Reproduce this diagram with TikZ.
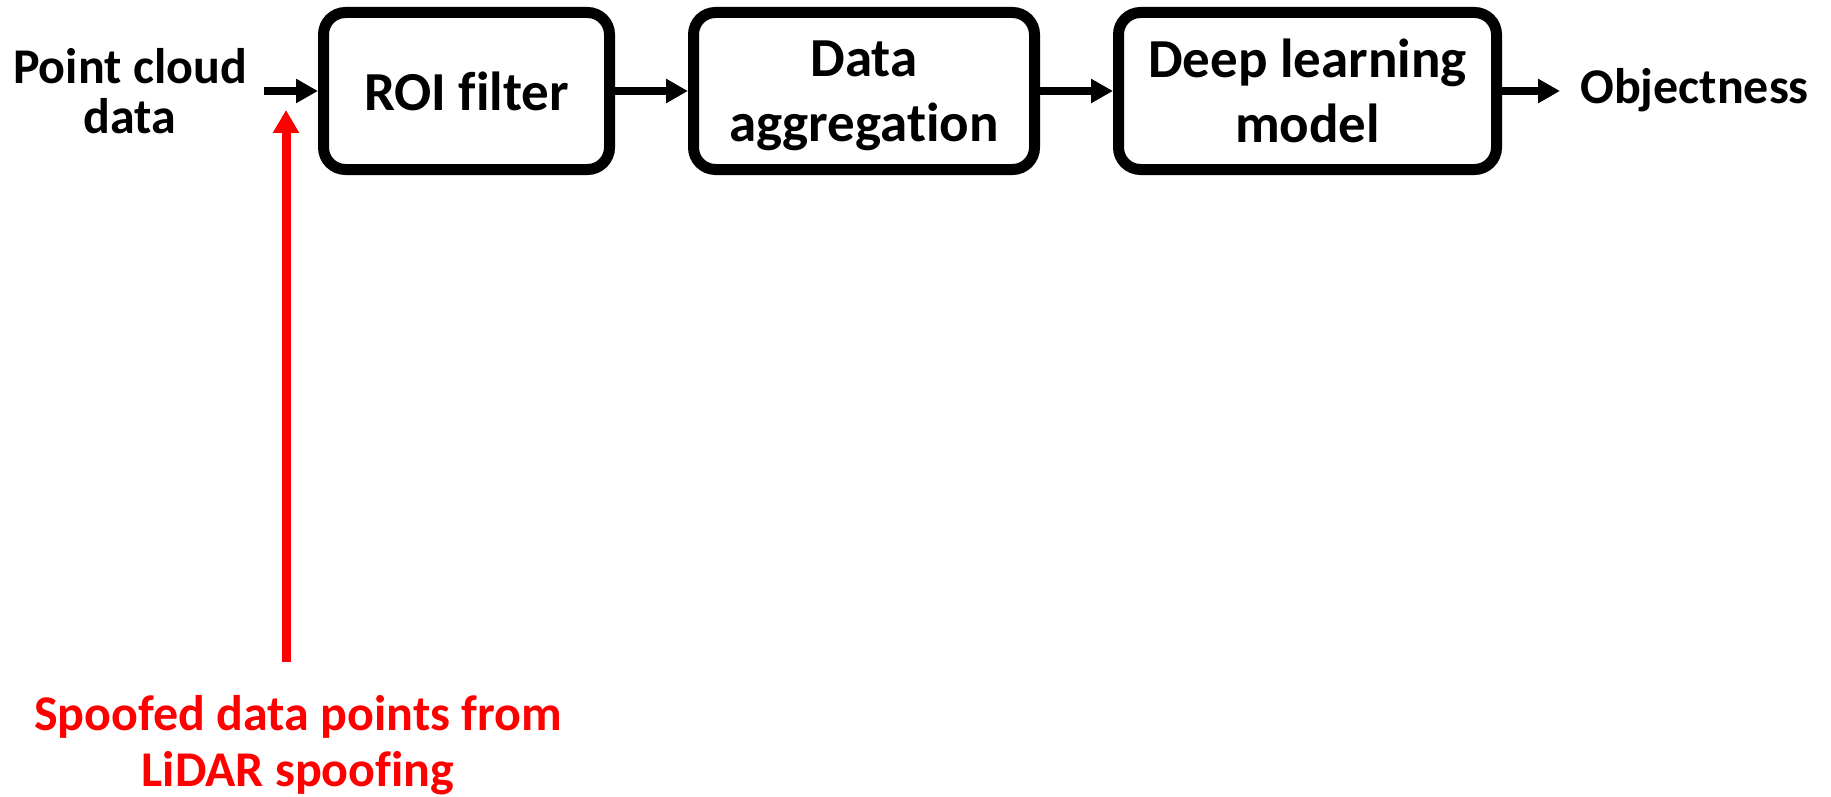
\documentclass[tikz,border=0pt]{standalone}
\usepackage{fontspec}
\setmainfont[Ligatures=NoCommon]{Carlito}
\usetikzlibrary{arrows.meta}
\begin{document}
\begin{tikzpicture}[x=1pt,y=-1pt,
  every node/.style={align=center, inner sep=0pt},
  boxtext/.style={font=\fontsize{55}{65}\selectfont\bfseries},
  plaintext/.style={font=\fontsize{50}{50}\selectfont\bfseries},
  stage/.style={boxtext, draw=black, line width=11pt, rounded corners=22pt, fill=white,
    minimum height=157pt},
  flow/.style={line width=8pt, -{Triangle[length=22pt,width=23pt]}},
  attack/.style={line width=9pt, draw=red, -{Triangle[length=23pt,width=25pt]}}
]
\useasboundingbox (0,0) rectangle (1831,797);

% processing stages
\node[stage, minimum width=286pt] (roi) at (466.5,91) {ROI filter};
\node[stage, minimum width=341pt] (agg) at (864,91)
  {Data\\\raisebox{0pt}[\height][0pt]{aggregation}};
\node[stage, minimum width=378pt] (dl)  at (1307.5,91) {Deep learning\\model};

% input and output labels
\node[plaintext] (pcd) at (130,91) {Point cloud\\data};
\node[plaintext, anchor=base west] (obj) at (1580,104) {Objectness};
\coordinate (in) at (264,91);

% main data flow
\draw[flow] (in) -- (in -| roi.west);
\draw[flow] (roi.east) -- (agg.west);
\draw[flow] (agg.east) -- (dl.west);
\draw[flow, shorten >=20pt] (dl.east) -- (dl.east -| obj.west);

% injected spoofed points
\node[plaintext, text=red, font=\fontsize{50}{56}\selectfont\bfseries] (spoof) at (298,745)
  {Spoofed data points from\\LiDAR spoofing};
\coordinate (atk0) at (286,662);
\coordinate (atk1) at (286,110);
\draw[attack] (atk0) -- (atk1);
\end{tikzpicture}
\end{document}
